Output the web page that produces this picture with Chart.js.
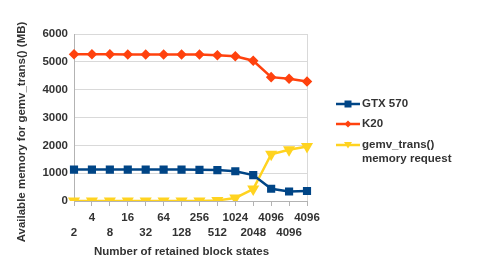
<!DOCTYPE html>
<html><head><meta charset="utf-8">
<script src="https://cdn.jsdelivr.net/npm/chart.js@4.4.1/dist/chart.umd.min.js"></script>
<style>html,body{margin:0;padding:0;background:#fff}#wrap{width:478px;height:273px;position:relative}</style>
</head><body><div id="wrap"><canvas id="c" width="478" height="273"></canvas></div>
<script>
const categories = ['2','4','8','16','32','64','128','256','512','1024','2048','4096','4096','4096'];
const gtx570 = [1130,1130,1130,1130,1130,1130,1130,1120,1110,1070,930,440,340,360];
const k20 = [5270,5270,5270,5260,5260,5260,5260,5260,5240,5200,5040,4450,4390,4290];
const gemvRequest = [0,0,0,0,0,0,0,0,20,110,430,1680,1840,1960];
const yTicks = [0,1000,2000,3000,4000,5000,6000];
const seriesNames = ['GTX 570','K20',['gemv_trans()','memory request']];
const xTitle = 'Number of retained block states';
const yTitle = 'Available memory for gemv_trans() (MB)';

const FONT = '"Liberation Sans", Arial, sans-serif';
const TXT = '#333333';
const FS = 11.5;

const legendPlugin = {
  id:'customLegend',
  afterDraw(chart){
    const ctx = chart.ctx;
    const items = [
      {y:104, color:'#004586', style:'rect', text:seriesNames[0]},
      {y:124, color:'#ff420e', style:'rectRot', text:seriesNames[1]},
      {y:145, color:'#ffd320', style:'triangle', text:seriesNames[2]}
    ];
    ctx.save();
    ctx.font = 'bold ' + FS + 'px ' + FONT;
    ctx.textBaseline = 'middle';
    items.forEach(it=>{
      ctx.strokeStyle = it.color; ctx.lineWidth = 2.5;
      ctx.beginPath(); ctx.moveTo(336,it.y); ctx.lineTo(360,it.y); ctx.stroke();
      ctx.fillStyle = it.color;
      const cx = 348, cy = it.y;
      ctx.beginPath();
      if(it.style==='rect'){ ctx.rect(cx-3.5,cy-3.5,7,7); }
      else if(it.style==='rectRot'){ ctx.moveTo(cx,cy-3.5);ctx.lineTo(cx+3.5,cy);ctx.lineTo(cx,cy+3.5);ctx.lineTo(cx-3.5,cy);ctx.closePath(); }
      else { ctx.moveTo(cx-4,cy-3);ctx.lineTo(cx+4,cy-3);ctx.lineTo(cx,cy+3.5);ctx.closePath(); }
      ctx.fill();
      ctx.fillStyle = TXT;
      const lines = Array.isArray(it.text)?it.text:[it.text];
      lines.forEach((l,i)=>ctx.fillText(l,362,it.y+i*14));
    });
    // axis titles
    ctx.textAlign = 'center';
    ctx.fillText(xTitle, 181.5, 252);
    ctx.translate(22, 132);
    ctx.rotate(-Math.PI/2);
    ctx.fillText(yTitle, 0, 0);
    ctx.restore();
  }
};

new Chart(document.getElementById('c'),{
  type:'line',
  data:{
    labels:categories,
    datasets:[
      {label:'GTX 570',data:gtx570,borderColor:'#004586',backgroundColor:'#004586',borderWidth:2.5,pointStyle:'rect',pointRadius:4,pointHoverRadius:4,tension:0},
      {label:'K20',data:k20,borderColor:'#ff420e',backgroundColor:'#ff420e',borderWidth:2.5,pointStyle:'rectRot',pointRadius:3.5,tension:0},
      {label:'gemv_trans() memory request',data:gemvRequest,borderColor:'#ffd320',backgroundColor:'#ffd320',borderWidth:2.5,pointStyle:'triangle',pointRotation:180,pointRadius:4.5,tension:0}
    ]
  },
  options:{
    responsive:false,animation:false,
    layout:{padding:{left:0,right:171,top:34,bottom:0}},
    plugins:{legend:{display:false},tooltip:{enabled:false}},
    scales:{
      x:{
        offset:false,
        afterFit:(s)=>{s.height=72;},
        grid:{color:(c)=>c.index===categories.length-1?'#d9d9d9':'transparent',tickColor:'#b3b3b3',tickLength:5,drawTicks:true},
        border:{color:'#b3b3b3'},
        ticks:{color:TXT,font:{family:FONT,size:FS,weight:'bold',lineHeight:1.3},maxRotation:0,autoSkip:false,padding:4.5,
          callback:function(v,i){const l=categories[i];return i%2===0?['',l]:[l,''];}},
        title:{display:false}
      },
      y:{
        min:0,max:6000,
        afterFit:(s)=>{s.width=74;},
        afterBuildTicks:(s)=>{s.ticks=yTicks.map(v=>({value:v}));},
        grid:{color:'#d9d9d9',drawTicks:false},
        border:{color:'#b3b3b3'},
        ticks:{color:TXT,font:{family:FONT,size:FS,weight:'bold'},padding:6,callback:(v)=>String(v)},
        title:{display:false}
      }
    }
  },
  plugins:[legendPlugin]
});
</script></body></html>
